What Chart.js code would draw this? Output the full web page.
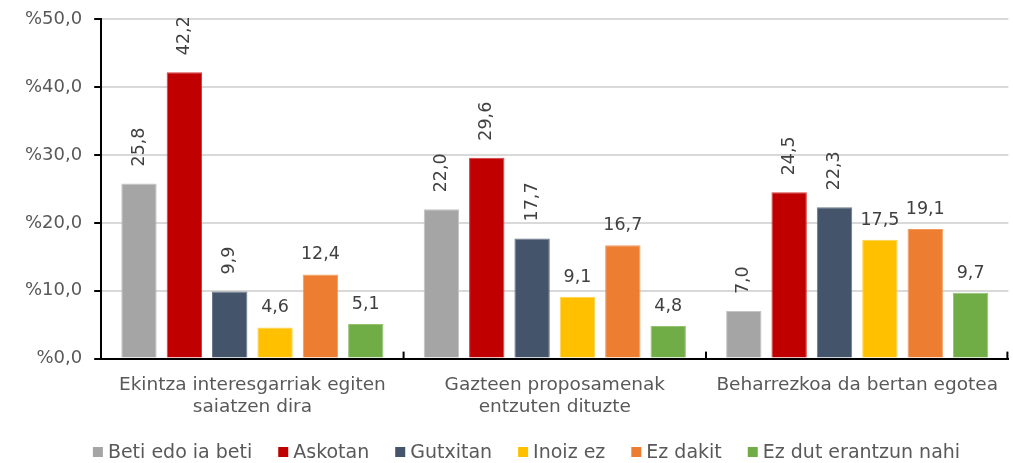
<!DOCTYPE html>
<html>
<head>
<meta charset="utf-8">
<script src="https://cdn.jsdelivr.net/npm/chart.js@4.4.0/dist/chart.umd.min.js"></script>
<style>
  html, body { margin: 0; padding: 0; background: #fff; }
  #wrap { width: 1013px; height: 463px; position: relative; }
</style>
</head>
<body>
<div id="wrap"><canvas id="chartCanvas"></canvas></div>
<script>
const categories = [
    ["Ekintza interesgarriak egiten", "saiatzen dira"],
    ["Gazteen proposamenak", "entzuten dituzte"],
    ["Beharrezkoa da bertan egotea"]
];
const seriesNames = ["Beti edo ia beti", "Askotan", "Gutxitan", "Inoiz ez", "Ez dakit", "Ez dut erantzun nahi"];
const betiValues = [25.8, 22.0, 7.0];
const askotanValues = [42.2, 29.6, 24.5];
const gutxitanValues = [9.9, 17.7, 22.3];
const inoizValues = [4.6, 9.1, 17.5];
const ezDakitValues = [12.4, 16.7, 19.1];
const ezDutValues = [5.1, 4.8, 9.7];
const yTicks = [0, 10, 20, 30, 40, 50];

const colors = ["#a5a5a5", "#c00000", "#44546a", "#ffc000", "#ed7d31", "#70ad47"];
const edgeColors = ["#c4c4c4", "#d63a3a", "#6a7789", "#ffd24d", "#f29a5e", "#93c270"];
// first three series have their labels turned upright, like in the original
const rotatedSeries = [true, true, true, false, false, false];

const FONT = "'DejaVu Sans'";
const fmt = (v) => v.toFixed(1).replace(".", ",");

const valueLabels = {
    id: "valueLabels",
    afterDatasetsDraw(chart) {
        const ctx = chart.ctx;
        ctx.save();
        ctx.fillStyle = "#404040";
        ctx.font = "17.5px " + FONT;
        chart.data.datasets.forEach((ds, i) => {
            const meta = chart.getDatasetMeta(i);
            meta.data.forEach((bar, j) => {
                const text = fmt(ds.data[j]);
                if (rotatedSeries[i]) {
                    ctx.save();
                    ctx.translate(bar.x, bar.y - 17);
                    ctx.rotate(-Math.PI / 2);
                    ctx.textAlign = "left";
                    ctx.textBaseline = "middle";
                    ctx.fillText(text, 0, 0);
                    ctx.restore();
                } else {
                    ctx.textAlign = "center";
                    ctx.textBaseline = "alphabetic";
                    ctx.fillText(text, bar.x, bar.y - 15);
                }
            });
        });
        ctx.restore();
    }
};

// small inward tick marks between the categories on the x axis
const innerTicks = {
    id: "innerTicks",
    afterDraw(chart) {
        const xs = chart.scales.x;
        const ctx = chart.ctx;
        const bottom = chart.chartArea.bottom;
        ctx.save();
        ctx.strokeStyle = "#000";
        ctx.lineWidth = 2;
        const n = chart.data.labels.length;
        for (let i = 0; i < n; i++) {
            let px = i < n - 1 ? (xs.getPixelForValue(i) + xs.getPixelForValue(i + 1)) / 2 : chart.chartArea.right - 1;
            ctx.beginPath();
            ctx.moveTo(px, bottom);
            ctx.lineTo(px, bottom - 7);
            ctx.stroke();
        }
        ctx.restore();
    }
};

// legend row drawn by hand so it can sit close to the bottom edge
const bottomLegend = {
    id: "bottomLegend",
    afterDraw(chart) {
        const ctx = chart.ctx;
        ctx.save();
        ctx.font = "19px " + FONT;
        const box = 10, gap = 5, spacing = 26;
        const widths = chart.data.datasets.map(ds => ctx.measureText(ds.label).width);
        const total = widths.reduce((a, w) => a + box + gap + w, 0) + spacing * (widths.length - 1);
        let x = chart.width / 2 + 20 - total / 2;
        const y = chart.height - 11;
        chart.data.datasets.forEach((ds, i) => {
            ctx.fillStyle = ds.backgroundColor;
            ctx.fillRect(x, y - box / 2, box, box);
            ctx.fillStyle = "#595959";
            ctx.textAlign = "left";
            ctx.textBaseline = "middle";
            ctx.fillText(ds.label, x + box + gap, y + 1);
            x += box + gap + widths[i] + spacing;
        });
        ctx.restore();
    }
};

const allValues = [betiValues, askotanValues, gutxitanValues, inoizValues, ezDakitValues, ezDutValues];

new Chart(document.getElementById("chartCanvas"), {
    type: "bar",
    data: {
        labels: categories,
        datasets: allValues.map((vals, i) => ({
            label: seriesNames[i],
            data: vals,
            backgroundColor: colors[i],
            borderColor: edgeColors[i],
            borderWidth: 1,
            borderSkipped: "bottom",
            categoryPercentage: 0.9,
            barPercentage: 0.78
        }))
    },
    options: {
        responsive: true,
        maintainAspectRatio: false,
        animation: false,
        layout: { padding: { top: 2, right: 0, left: 13, bottom: 30 } },
        plugins: {
            legend: { display: false },
            tooltip: { enabled: false }
        },
        scales: {
            x: {
                grid: {
                    drawOnChartArea: false,
                    drawTicks: false
                },
                border: { color: "#000", width: 2 },
                ticks: {
                    color: "#595959",
                    font: { family: FONT, size: 18.5 },
                    maxRotation: 0,
                    padding: 15
                }
            },
            y: {
                min: 0,
                max: 50,
                afterBuildTicks: (axis) => { axis.ticks = yTicks.map(v => ({ value: v })); },
                grid: {
                    color: "#d9d9d9",
                    lineWidth: 2,
                    tickLength: 7,
                    tickColor: "#000",
                    tickWidth: 2
                },
                border: { color: "#000", width: 2 },
                ticks: {
                    color: "#595959",
                    font: { family: FONT, size: 18, lineHeight: 0.8 },
                    padding: 12,
                    callback: (v) => "%" + fmt(v)
                }
            }
        }
    },
    plugins: [valueLabels, innerTicks, bottomLegend]
});
</script>
</body>
</html>
